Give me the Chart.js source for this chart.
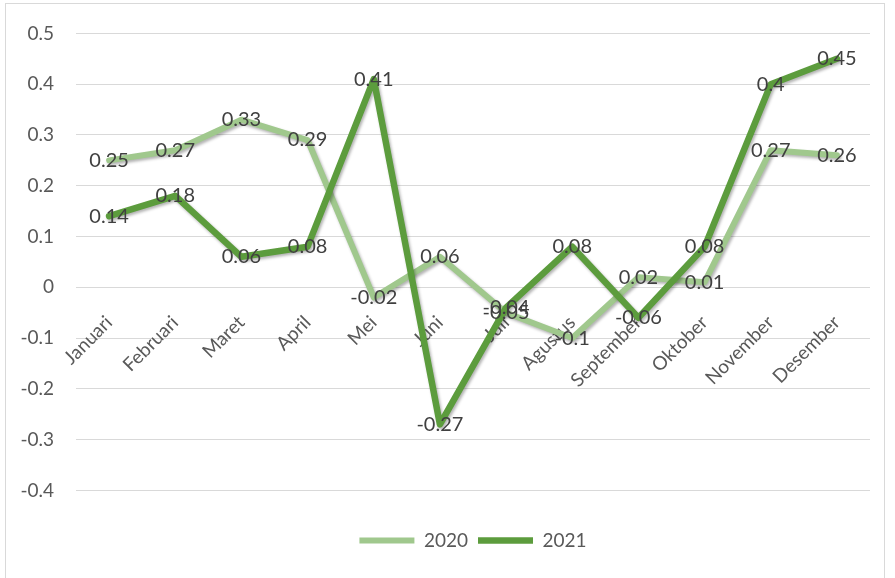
<!DOCTYPE html>
<html>
<head>
<meta charset="utf-8">
<script src="https://cdn.jsdelivr.net/npm/chart.js@4/dist/chart.umd.min.js"></script>
<style>
  html, body { margin: 0; padding: 0; background: #ffffff; }
  #wrap { position: relative; width: 895px; height: 578px; }
  #frame { position: absolute; left: 5px; top: 3px; width: 880px; height: 590px; border: 1px solid #d9d9d9; pointer-events: none; box-sizing: border-box; }
  canvas { display: block; }
</style>
</head>
<body>
<div id="wrap">
  <canvas id="c" width="895" height="578"></canvas>
  <div id="frame"></div>
</div>
<script>
const months = ["Januari", "Februari", "Maret", "April", "Mei", "Juni", "Juli", "Agustus", "September", "Oktober", "November", "Desember"];
const series2020 = [0.25, 0.27, 0.33, 0.29, -0.02, 0.06, -0.05, -0.1, 0.02, 0.01, 0.27, 0.26];
const series2021 = [0.14, 0.18, 0.06, 0.08, 0.41, -0.27, -0.04, 0.08, -0.06, 0.08, 0.4, 0.45];
const seriesNames = ["2020", "2021"];
const yTicks = { min: -0.4, max: 0.5, step: 0.1 };

const FONT = "Lato, 'Open Sans', sans-serif";

const shadowPlugin = {
  id: 'lineShadow',
  beforeDatasetsDraw(chart) {
    const ctx = chart.ctx;
    ctx.save();
    ctx.shadowColor = 'rgba(0,0,0,0.30)';
    ctx.shadowBlur = 3;
    ctx.shadowOffsetX = 1.5;
    ctx.shadowOffsetY = 2;
  },
  afterDatasetsDraw(chart) {
    chart.ctx.restore();
  }
};

const labelPlugin = {
  id: 'pointLabels',
  afterDatasetsDraw(chart) {
    const ctx = chart.ctx;
    ctx.save();
    ctx.font = "20px " + FONT;
    ctx.fillStyle = '#404040';
    ctx.textAlign = 'center';
    ctx.textBaseline = 'middle';
    chart.data.datasets.forEach((ds, i) => {
      const meta = chart.getDatasetMeta(i);
      meta.data.forEach((el, j) => {
        ctx.fillText(String(ds.data[j]), el.x, el.y);
      });
    });
    ctx.restore();
  }
};

new Chart(document.getElementById('c'), {
  type: 'line',
  data: {
    labels: months,
    datasets: [
      {
        label: seriesNames[0],
        data: series2020,
        borderColor: '#a0c88d',
        backgroundColor: '#a0c88d',
        borderWidth: 6,
        borderCapStyle: 'round',
        borderJoinStyle: 'round',
        pointRadius: 0,
        tension: 0,
        order: 1
      },
      {
        label: seriesNames[1],
        data: series2021,
        borderColor: '#5c9c3d',
        backgroundColor: '#5c9c3d',
        borderWidth: 6.5,
        borderCapStyle: 'round',
        borderJoinStyle: 'round',
        pointRadius: 0,
        tension: 0,
        order: 0
      }
    ]
  },
  options: {
    responsive: false,
    animation: false,
    layout: { padding: { left: 6, right: 25, top: 33, bottom: 18 } },
    scales: {
      x: {
        type: 'category',
        offset: true,
        position: { y: 0 },
        grid: { display: false, drawTicks: false },
        border: { display: false },
        ticks: {
          minRotation: 45,
          maxRotation: 45,
          padding: 24,
          color: '#595959',
          font: { family: FONT, size: 19 }
        }
      },
      y: {
        min: yTicks.min,
        max: yTicks.max,
        afterFit(scale) { scale.width = 70; },
        grid: { color: '#d9d9d9', lineWidth: 1, drawTicks: false },
        border: { display: false },
        ticks: {
          stepSize: yTicks.step,
          padding: 22,
          color: '#595959',
          font: { family: FONT, size: 19 },
          callback: (v) => String(Math.round(v * 10) / 10)
        }
      }
    },
    plugins: {
      legend: {
        position: 'bottom',
        fullSize: false,
        title: { display: true, text: ' ', padding: { top: 9, bottom: 0 }, font: { size: 18 } },
        labels: {
          usePointStyle: true,
          pointStyle: 'line',
          pointStyleWidth: 55,
          padding: 10,
          color: '#595959',
          font: { family: FONT, size: 19 },
          sort: (a, b) => a.datasetIndex - b.datasetIndex
        }
      },
      tooltip: { enabled: false }
    }
  },
  plugins: [shadowPlugin, labelPlugin]
});
</script>
</body>
</html>
